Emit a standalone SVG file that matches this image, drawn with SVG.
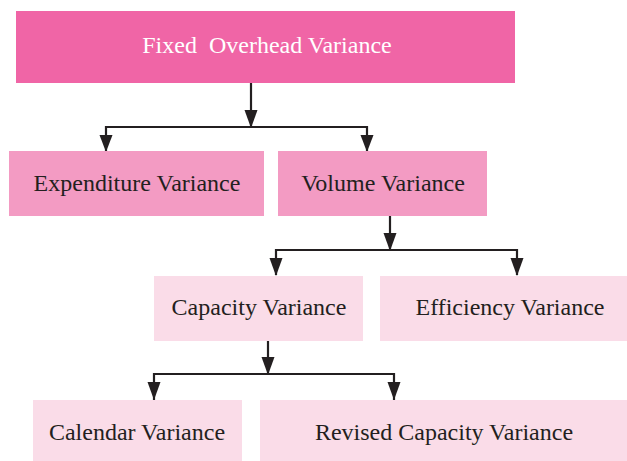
<svg xmlns="http://www.w3.org/2000/svg" width="627" height="461" viewBox="0 0 627 461">
<style>
text{font-family:"Liberation Serif","Times New Roman",serif;font-size:24px;fill:#231F20;text-anchor:middle;white-space:pre}
.l1{fill:#F065A6}
.l2{fill:#F39BC3}
.l3{fill:#FADCE8}
.c{stroke:#231F20;stroke-width:2.2;fill:none}
.h{fill:#231F20}
</style>
<rect width="627" height="461" fill="#fff"/>
<g id="connectors">
<path class="c" d="M251,83 V127" />
<path class="h" d="M244.5,110 L257.5,110 L251,128 Z"/>
<path class="c" d="M106,151 V127 H367 V151"/>
<path class="h" d="M99.5,135 L112.5,135 L106,152 Z"/>
<path class="h" d="M360.5,135 L373.5,135 L367,152 Z"/>
<path class="c" d="M390,216 V250"/>
<path class="h" d="M383.5,233 L396.5,233 L390,251 Z"/>
<path class="c" d="M276,275 V250 H517 V275"/>
<path class="h" d="M269.5,258 L282.5,258 L276,276 Z"/>
<path class="h" d="M510.5,258 L523.5,258 L517,276 Z"/>
<path class="c" d="M268,341 V374"/>
<path class="h" d="M261.5,357 L274.5,357 L268,375 Z"/>
<path class="c" d="M154,400 V374 H394 V400"/>
<path class="h" d="M147.5,382 L160.5,382 L154,400 Z"/>
<path class="h" d="M387.5,382 L400.5,382 L394,400 Z"/>
</g>
<g id="fixed">
<rect class="l1" x="16" y="11" width="499" height="72"/>
<text x="267" y="53" style="fill:#fff" xml:space="preserve">Fixed  Overhead Variance</text>
</g>
<g id="expenditure">
<rect class="l2" x="9" y="151" width="255" height="65"/>
<text x="137" y="191">Expenditure Variance</text>
</g>
<g id="volume">
<rect class="l2" x="278" y="151" width="209" height="65"/>
<text x="383" y="191">Volume Variance</text>
</g>
<g id="capacity">
<rect class="l3" x="154" y="276" width="209" height="65"/>
<text x="259" y="315">Capacity Variance</text>
</g>
<g id="efficiency">
<rect class="l3" x="380" y="276" width="247" height="65"/>
<text x="510" y="315">Efficiency Variance</text>
</g>
<g id="calendar">
<rect class="l3" x="33" y="400" width="209" height="61"/>
<text x="137" y="440">Calendar Variance</text>
</g>
<g id="revised">
<rect class="l3" x="260" y="400" width="367" height="61"/>
<text x="444" y="440">Revised Capacity Variance</text>
</g>
</svg>
